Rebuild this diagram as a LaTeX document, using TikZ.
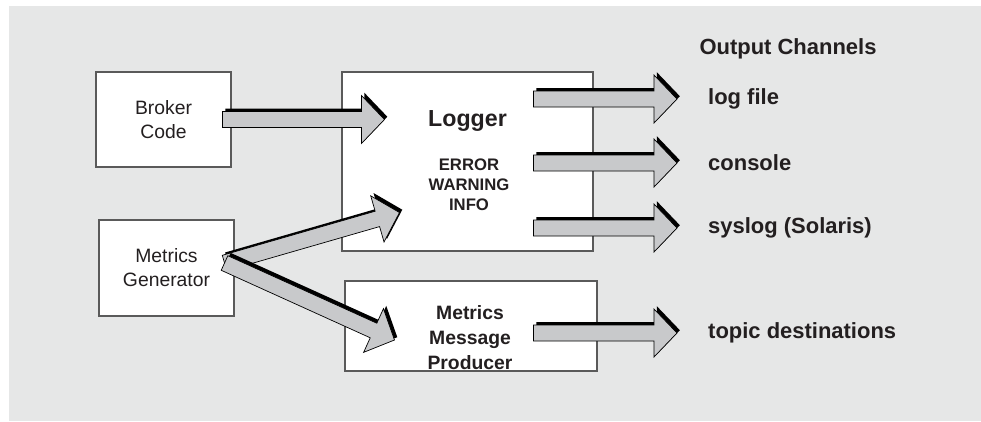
\documentclass[tikz,border=0pt]{standalone}
\usepackage{fontspec}
\setmainfont{Liberation Sans}
\usetikzlibrary{positioning,calc}
\definecolor{panelgray}{RGB}{230,231,231}
\definecolor{arrowgray}{RGB}{200,201,203}
\definecolor{boxline}{RGB}{90,90,90}
\definecolor{inkdark}{RGB}{35,31,32}

% fat shaded arrow from coordinate #1 to coordinate #2
\newcommand{\fatarrow}[2]{%
  \coordinate (fa-h) at ($(#2)!0.46cm!(#1)$);
  \foreach \sty in {fashadow,fabody}
    \draw[\sty] ($(#1)!0.16cm!90:(#2)$) -- ($(fa-h)!0.16cm!90:(#2)$) -- ($(fa-h)!0.48cm!90:(#2)$)
      -- (#2) -- ($(fa-h)!0.48cm!-90:(#2)$) -- ($(fa-h)!0.16cm!-90:(#2)$) -- ($(#1)!0.16cm!-90:(#2)$) -- cycle;
}

\begin{document}
\begin{tikzpicture}[
      every node/.style={text=inkdark},
      unit/.style={draw=boxline, fill=white, line width=0.6pt, inner sep=0pt},
      boxtxt/.style={font=\fontsize{11}{13.6}\selectfont, align=center},
      bigtxt/.style={font=\fontsize{13.2}{15}\selectfont\bfseries},
      lvltxt/.style={font=\fontsize{9.5}{11.3}\selectfont\bfseries, align=center},
      prodtxt/.style={font=\fontsize{11}{14.2}\selectfont\bfseries, align=center},
      chan/.style={font=\fontsize{12.5}{15}\selectfont\bfseries, anchor=west},
      fashadow/.style={fill=black, draw=none, transform canvas={shift={(1.6pt,1.6pt)}}},
      fabody/.style={fill=arrowgray, draw=black, line width=0.4pt}
    ]
      \useasboundingbox (0,0) rectangle (19.62,8.42);
      \fill[panelgray] (0.18,0) rectangle (19.62,8.30);

      % sources
      \node[unit, boxtxt, minimum width=2.7cm, minimum height=1.9cm] (broker) at (3.27,6.03) {Broker\\Code};
      \node[unit, boxtxt, minimum width=2.7cm, minimum height=1.92cm] (generator) at (3.33,3.06) {Metrics\\Generator};

      % Logger
      \node[unit, minimum width=5.02cm, minimum height=3.58cm] (logger) at (9.35,5.19) {};
      \node[bigtxt] (loggername) at (9.35,6.0) {Logger};
      \node[lvltxt] (levels) at (9.38,4.72) {ERROR\\WARNING\\INFO};

      % Metrics Message Producer
      \node[unit, minimum width=5.04cm, minimum height=1.8cm] (producer) at (9.42,1.90) {};
      \node[prodtxt] (producername) at (9.40,1.66) {Metrics\\Message\\Producer};

      % output channels
      \node[font=\fontsize{12.5}{15}\selectfont\bfseries] (chanhead) at (15.76,7.44) {Output Channels};
      \node[chan] (logfile) at (14.04,6.44) {log file};
      \node[chan] (console) at (14.04,5.16) {console};
      \node[chan] (syslog) at (14.04,3.86) {syslog (Solaris)};
      \node[chan] (topics) at (14.04,1.76) {topic destinations};

      \coordinate (brk-a) at ([xshift=-0.18cm]broker.east);
      \coordinate (brk-b) at ($(logger.west |- brk-a)+(0.86,0)$);
      \fatarrow{brk-a}{brk-b}

      \coordinate (met-a) at ($(generator.east)+(-0.2,0.1)$);
      \coordinate (met-log) at ($(logger.south west)+(1.16,0.78)$);
      \coordinate (met-prod) at ($(producer.west)+(1.0,-0.28)$);
      \fatarrow{met-a}{met-log}
      \fatarrow{met-a}{met-prod}

      \foreach \lbl in {logfile,console,syslog,topics} {
        \coordinate (\lbl-a) at ($(logger.east |- \lbl.west)+(-1.2,0)$);
        \coordinate (\lbl-b) at ([xshift=-0.5cm]\lbl.west);
        \fatarrow{\lbl-a}{\lbl-b}
      }
    \end{tikzpicture}
\end{document}
